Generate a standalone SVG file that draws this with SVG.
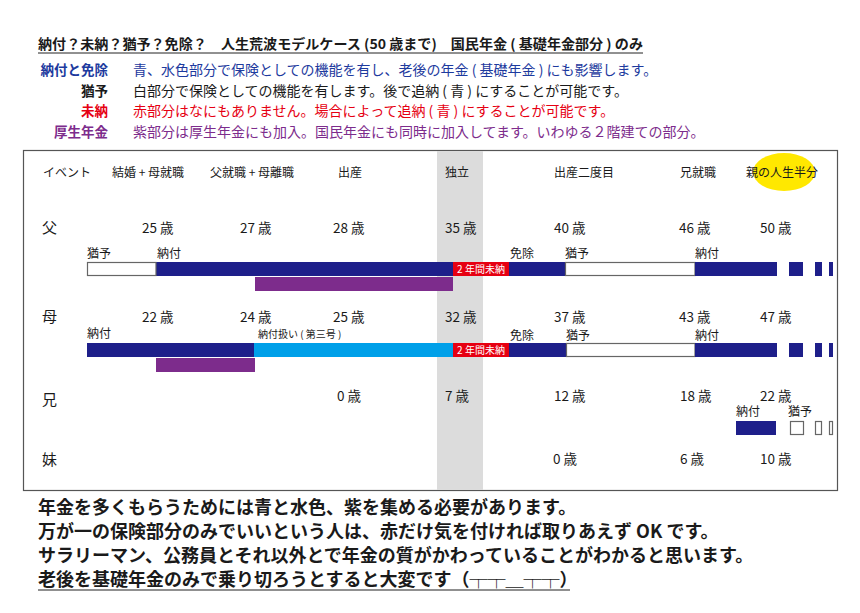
<svg xmlns="http://www.w3.org/2000/svg" width="860" height="613" viewBox="0 0 860 613">
<style>
text{font-family:"Noto Sans CJK JP","Noto Sans",sans-serif;fill:#1a1a1a}
.t{font-size:13.5px;font-weight:bold}
.lg{font-size:13.5px;font-weight:bold}
.ld{font-size:14px}
.h{font-size:12px}
.age{font-size:13.5px}
.who{font-size:15px}
.sm{font-size:12px}
.xs{font-size:10px}
.b{font-size:18px;font-weight:bold}
.navy{fill:#1e1f8a}
.sky{fill:#00a0e9}
.pur{fill:#7d2c8c}
.red{fill:#e60012}
.wb{fill:#fff;stroke:#666;stroke-width:1.2}
</style>
<rect width="860" height="613" fill="#fff"/>
<g id="title">
<text class="t" x="38" y="49" textLength="605" lengthAdjust="spacingAndGlyphs">納付？未納？猶予？免除？　人生荒波モデルケース (50 歳まで)　国民年金 ( 基礎年金部分 ) のみ</text>
<line x1="38" y1="53" x2="643" y2="53" stroke="#222" stroke-width="1"/>
</g>
<g id="legend">
<text class="lg" x="108" y="75" text-anchor="end" style="fill:#1d3a9e">納付と免除</text>
<text class="ld" x="133" y="75" style="fill:#1d3a9e">青、水色部分で保険としての機能を有し、老後の年金 ( 基礎年金 ) にも影響します。</text>
<text class="lg" x="108" y="96" text-anchor="end">猶予</text>
<text class="ld" x="133" y="96">白部分で保険としての機能を有します。後で追納 ( 青 ) にすることが可能です。</text>
<text class="lg" x="108" y="116" text-anchor="end" style="fill:#e60012">未納</text>
<text class="ld" x="133" y="116" style="fill:#e60012">赤部分はなにもありません。場合によって追納 ( 青 ) にすることが可能です。</text>
<text class="lg" x="108" y="137" text-anchor="end" style="fill:#7d2c8c">厚生年金</text>
<text class="ld" x="133" y="137" style="fill:#7d2c8c">紫部分は厚生年金にも加入。国民年金にも同時に加入してます。いわゆる２階建ての部分。</text>
</g>
<g id="frame">
<rect x="23.5" y="150.5" width="814" height="340" fill="#fff" stroke="#555" stroke-width="1.2"/>
<rect x="437" y="151" width="46" height="339" fill="#dcdcdc"/>
<ellipse cx="784" cy="172" rx="31" ry="19" fill="#ffe800"/>
</g>
<g id="header">
<text class="h" x="43" y="177">イベント</text>
<text class="h" x="112" y="177">結婚 + 母就職</text>
<text class="h" x="210" y="177">父就職 + 母離職</text>
<text class="h" x="338" y="177">出産</text>
<text class="h" x="445" y="177">独立</text>
<text class="h" x="554" y="177">出産二度目</text>
<text class="h" x="680" y="177">兄就職</text>
<text class="h" x="746" y="177">親の人生半分</text>
</g>
<g id="father">
<text class="who" x="42" y="233">父</text>
<text class="age" x="142" y="233">25 歳</text>
<text class="age" x="240" y="233">27 歳</text>
<text class="age" x="333" y="233">28 歳</text>
<text class="age" x="445" y="233">35 歳</text>
<text class="age" x="554" y="233">40 歳</text>
<text class="age" x="679" y="233">46 歳</text>
<text class="age" x="760" y="233">50 歳</text>
<text class="sm" x="87" y="258">猶予</text>
<text class="sm" x="157" y="258">納付</text>
<text class="sm" x="510" y="258">免除</text>
<text class="sm" x="565" y="258">猶予</text>
<text class="sm" x="695" y="258">納付</text>
<rect class="navy" x="156" y="262" width="297" height="14"/>
<rect class="wb" x="87.5" y="262.5" width="68.5" height="13"/>
<rect class="red" x="453" y="262" width="56" height="14"/>
<text class="xs" x="481" y="273" text-anchor="middle" style="fill:#fff">2 年間未納</text>
<rect class="navy" x="509" y="262" width="56" height="14"/>
<rect class="wb" x="565.5" y="262.5" width="129.5" height="13"/>
<rect class="navy" x="695" y="262" width="82" height="14"/>
<rect class="navy" x="789" y="262" width="14" height="14"/>
<rect class="navy" x="815" y="262" width="7" height="14"/>
<rect class="navy" x="829" y="262" width="4" height="14"/>
<rect class="pur" x="255" y="277" width="198" height="14"/>
</g>
<g id="mother">
<text class="who" x="42" y="322">母</text>
<text class="age" x="142" y="322">22 歳</text>
<text class="age" x="240" y="322">24 歳</text>
<text class="age" x="333" y="322">25 歳</text>
<text class="age" x="445" y="322">32 歳</text>
<text class="age" x="554" y="322">37 歳</text>
<text class="age" x="679" y="322">43 歳</text>
<text class="age" x="760" y="322">47 歳</text>
<text class="sm" x="87" y="338">納付</text>
<text class="xs" x="258" y="338">納付扱い ( 第三号 )</text>
<text class="sm" x="510" y="340">免除</text>
<text class="sm" x="566" y="340">猶予</text>
<text class="sm" x="695" y="340">納付</text>
<rect class="navy" x="87" y="343" width="167" height="14"/>
<rect class="sky" x="254" y="343" width="199" height="14"/>
<rect class="red" x="453" y="343" width="56" height="14"/>
<text class="xs" x="481" y="354" text-anchor="middle" style="fill:#fff">2 年間未納</text>
<rect class="navy" x="509" y="343" width="57" height="14"/>
<rect class="wb" x="566.5" y="343.5" width="128.5" height="13"/>
<rect class="navy" x="695" y="343" width="82" height="14"/>
<rect class="navy" x="789" y="343" width="14" height="14"/>
<rect class="navy" x="815" y="343" width="7" height="14"/>
<rect class="navy" x="829" y="343" width="4" height="14"/>
<rect class="pur" x="156" y="358" width="99" height="14"/>
</g>
<g id="brother">
<text class="who" x="42" y="405">兄</text>
<text class="age" x="337" y="401">0 歳</text>
<text class="age" x="445" y="401">7 歳</text>
<text class="age" x="554" y="401">12 歳</text>
<text class="age" x="680" y="401">18 歳</text>
<text class="age" x="760" y="401">22 歳</text>
<text class="sm" x="736" y="416">納付</text>
<text class="sm" x="788" y="416">猶予</text>
<rect class="navy" x="736" y="421" width="40" height="14"/>
<rect class="wb" x="790.5" y="421.5" width="13" height="13"/>
<rect class="wb" x="815.5" y="421.5" width="6" height="13"/>
<rect class="wb" x="829.5" y="421.5" width="3" height="13"/>
</g>
<g id="sister">
<text class="who" x="42" y="465">妹</text>
<text class="age" x="553" y="464">0 歳</text>
<text class="age" x="680" y="464">6 歳</text>
<text class="age" x="760" y="464">10 歳</text>
</g>
<g id="footer">
<text class="b" x="38" y="514">年金を多くもらうためには青と水色、紫を集める必要があります。</text>
<text class="b" x="38" y="538">万が一の保険部分のみでいいという人は、赤だけ気を付ければ取りあえず OK です。</text>
<text class="b" x="38" y="562">サラリーマン、公務員とそれ以外とで年金の質がかわっていることがわかると思います。</text>
<text class="b" x="38" y="586">老後を基礎年金のみで乗り切ろうとすると大変です（┬┬＿┬┬）</text>
<line x1="38" y1="590" x2="570" y2="590" stroke="#222" stroke-width="1.2"/>
</g>
</svg>
